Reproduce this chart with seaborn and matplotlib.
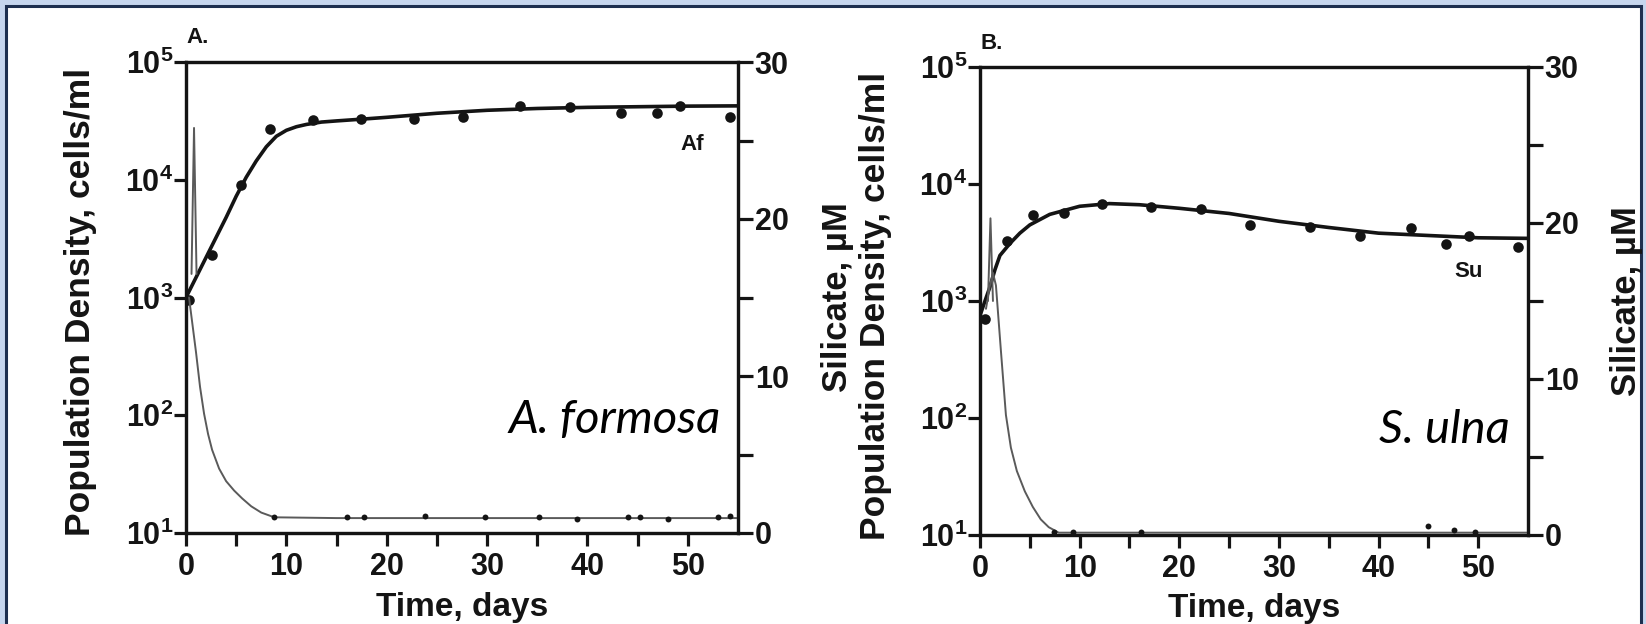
import numpy as np
import pandas as pd
import matplotlib
matplotlib.use("Agg")
import matplotlib.pyplot as plt
import seaborn as sns
from matplotlib.patches import Rectangle
from matplotlib.ticker import FixedLocator, NullLocator, FixedFormatter

# ---------------- data ----------------
# Panel A: Asterionella formosa
popA_days = [0.3, 2.6, 5.5, 8.4, 12.7, 17.4, 22.7, 27.6, 33.3, 38.3, 43.3, 46.9, 49.2, 54.2]
popA_vals = [950, 2300, 9000, 27000, 32000, 32500, 33000, 34000, 42000, 41700, 37000, 37000, 42000, 34000]
fitA_days = [0, 1, 2, 3, 4, 5, 6, 7, 8, 9, 10, 11, 12, 13.5, 15, 17.5, 20, 25, 30, 35, 40, 45, 50, 55]
fitA_vals = [1000, 1480, 2190, 3240, 4790, 7240, 10500, 14450, 19050, 23400, 26300, 28200, 29500,
             30900, 31600, 32700, 33900, 36700, 38900, 40300, 41200, 41700, 42200, 42400]
silA_spike_days = [0.55, 0.8, 1.05]
silA_spike_vals = [16.5, 25.8, 16.5]
silA_days = [0.3, 0.6, 1.0, 1.4, 1.8, 2.2, 2.6, 3.3, 4.0, 4.8, 5.6, 6.5, 7.5, 8.8, 15, 25, 35, 45, 55]
silA_vals = [15.0, 13.5, 11.5, 9.3, 7.6, 6.3, 5.3, 4.1, 3.3, 2.7, 2.2, 1.7, 1.3, 1.0, 0.95, 0.95, 0.95, 0.95, 0.95]
silA_pt_days = [8.8, 16.0, 17.7, 23.8, 29.8, 35.2, 39.0, 44.0, 45.2, 48.0, 53.0, 54.2]
silA_pt_vals = [1.0, 1.0, 1.0, 1.1, 1.0, 1.0, 0.9, 1.0, 1.0, 0.9, 1.0, 1.1]

# Panel B: Synedra ulna
popB_days = [0.5, 2.75, 5.3, 8.4, 12.2, 17.2, 22.2, 27.1, 33.1, 38.1, 43.3, 46.8, 49.1, 54.0]
popB_vals = [700, 3260, 5430, 5600, 6700, 6300, 6150, 4460, 4300, 3560, 4200, 3100, 3560, 2880]
fitB_days = [0, 0.5, 1, 1.5, 2, 3, 4, 5, 7, 10, 13, 16, 20, 25, 30, 35, 40, 45, 50, 55]
fitB_vals = [750, 1000, 1320, 1850, 2450, 3100, 3800, 4470, 5500, 6450, 6800, 6650, 6200, 5600, 4800, 4250, 3800, 3630, 3470, 3430]
silB_spike_days = [0.8, 1.05, 1.3]
silB_spike_vals = [15.0, 20.3, 15.0]
silB_days = [0.6, 1.0, 1.3, 1.6, 2.1, 2.6, 3.1, 3.7, 4.5, 5.3, 6.1, 6.9, 7.9, 15, 25, 35, 45, 55]
silB_vals = [14.5, 16.0, 16.8, 16.0, 11.8, 7.7, 5.6, 4.1, 2.8, 1.8, 1.0, 0.5, 0.15, 0.15, 0.15, 0.15, 0.15, 0.15]
silB_pt_days = [7.4, 9.3, 16.2, 45.0, 47.6, 49.7]
silB_pt_vals = [0.2, 0.2, 0.2, 0.6, 0.3, 0.2]

panel_letters = ["A.", "B."]
species = ["A. formosa", "S. ulna"]
codes = ["Af", "Su"]
x_ticks = [0, 10, 20, 30, 40, 50]
left_ticks = [10, 100, 1000, 10000, 100000]
left_labels = [r"$\mathbf{10^{1}}$", r"$\mathbf{10^{2}}$", r"$\mathbf{10^{3}}$", r"$\mathbf{10^{4}}$", r"$\mathbf{10^{5}}$"]
right_ticks = [0, 10, 20, 30]

# ---------------- style ----------------
sns.set_theme(style="ticks")
plt.rcParams['font.family'] = ['Liberation Sans', 'DejaVu Sans']
plt.rcParams['font.weight'] = 'bold'
plt.rcParams['mathtext.fontset'] = 'custom'
plt.rcParams['mathtext.rm'] = 'Liberation Sans:bold'
plt.rcParams['mathtext.bf'] = 'Liberation Sans:bold'
plt.rcParams['mathtext.it'] = 'Liberation Sans:bold'

W, H = 1646, 624
fig = plt.figure(figsize=(W / 100, H / 100), dpi=100)
fig.patch.set_facecolor('#c6d6ee')
bg = Rectangle((6 / W, -0.2), (1641 - 6) / W, 1.2 - 6 / H,
               transform=fig.transFigure, facecolor='white',
               edgecolor='#1d2f4f', linewidth=2.2, zorder=-10)
fig.add_artist(bg)

INK = '#141414'
LW = 2.3


def panel(rect, pd_, pv, fd, fv, sd_spk, sv_spk, sd, sv, spd, spv, letter, sp, code, code_xy, sp_xy):
    ax = fig.add_axes(rect)
    ax.set_facecolor('none')
    ax.set_yscale('log')
    sns.lineplot(x=fd, y=fv, ax=ax, color=INK, linewidth=2.6, zorder=3)
    sns.scatterplot(x=pd_, y=pv, ax=ax, color=INK, s=58, edgecolor=INK, linewidth=0, zorder=4)
    ax.set_xlim(0, 55)
    ax.set_ylim(10, 1e5)
    ax.xaxis.set_major_locator(FixedLocator(x_ticks))
    ax.xaxis.set_minor_locator(FixedLocator([5, 15, 25, 35, 45]))
    ax.yaxis.set_major_locator(FixedLocator(left_ticks))
    ax.yaxis.set_major_formatter(FixedFormatter(left_labels))
    ax.yaxis.set_minor_locator(NullLocator())
    for s in ax.spines.values():
        s.set_linewidth(LW)
        s.set_color(INK)
    ax.tick_params(axis='x', which='both', direction='out', length=9, width=LW,
                   colors=INK, labelsize=22, pad=5)
    ax.tick_params(axis='y', which='both', direction='out', length=9, width=LW,
                   colors=INK, labelsize=22, pad=0)
    ax.set_xlabel("Time, days", fontsize=24, fontweight='bold', color=INK, labelpad=0)
    ax.set_ylabel("Population Density, cells/ml", fontsize=25.5, fontweight='bold', color=INK)
    ax.xaxis.set_label_coords(0.5, -0.125)
    ax.yaxis.set_label_coords(-0.161, 0.49)

    ax2 = ax.twinx()
    ax2.set_facecolor('none')
    sns.lineplot(x=sd, y=sv, ax=ax2, color='#5a5a5a', linewidth=1.4, zorder=2)
    sns.lineplot(x=sd_spk, y=sv_spk, ax=ax2, color='#5a5a5a', linewidth=1.4, zorder=2)
    sns.scatterplot(x=spd, y=spv, ax=ax2, color=INK, s=18, linewidth=0, zorder=3)
    ax2.set_ylim(0, 30)
    ax2.set_xlim(0, 55)
    ax2.yaxis.set_major_locator(FixedLocator(right_ticks))
    ax2.yaxis.set_minor_locator(FixedLocator([5, 15, 25]))
    for s in ax2.spines.values():
        s.set_linewidth(LW)
        s.set_color(INK)
    ax2.tick_params(axis='y', which='both', direction='out', length=11, width=LW,
                    colors=INK, labelsize=22, pad=1)
    ax2.set_ylabel("Silicate, µM", fontsize=25, fontweight='bold', color=INK)
    ax2.yaxis.set_label_coords(1.15, 0.5)

    ax.text(0.0, 1.6e5, letter, fontsize=16, fontweight='bold', color=INK, ha='left', va='center')
    ax.text(code_xy[0], code_xy[1], code, fontsize=16, fontweight='bold', color=INK,
            ha='center', va='center', zorder=5)
    ax.text(sp_xy[0], sp_xy[1], sp, fontsize=34, fontweight='normal', style='italic',
            family=['Lato', 'DejaVu Sans'], color='black', ha='right', va='baseline', zorder=5)
    return ax, ax2


panel([186 / W, 1 - 533 / H, 552 / W, 471 / H],
      popA_days, popA_vals, fitA_days, fitA_vals, silA_spike_days, silA_spike_vals,
      silA_days, silA_vals, silA_pt_days, silA_pt_vals,
      panel_letters[0], species[0], codes[0], (50.4, 2.0e4), (53.3, 71))
panel([980 / W, 1 - 535 / H, 548 / W, 468 / H],
      popB_days, popB_vals, fitB_days, fitB_vals, silB_spike_days, silB_spike_vals,
      silB_days, silB_vals, silB_pt_days, silB_pt_vals,
      panel_letters[1], species[1], codes[1], (49.0, 1800), (53.2, 61))

fig.savefig("out.png", dpi=100, facecolor=fig.get_facecolor())
